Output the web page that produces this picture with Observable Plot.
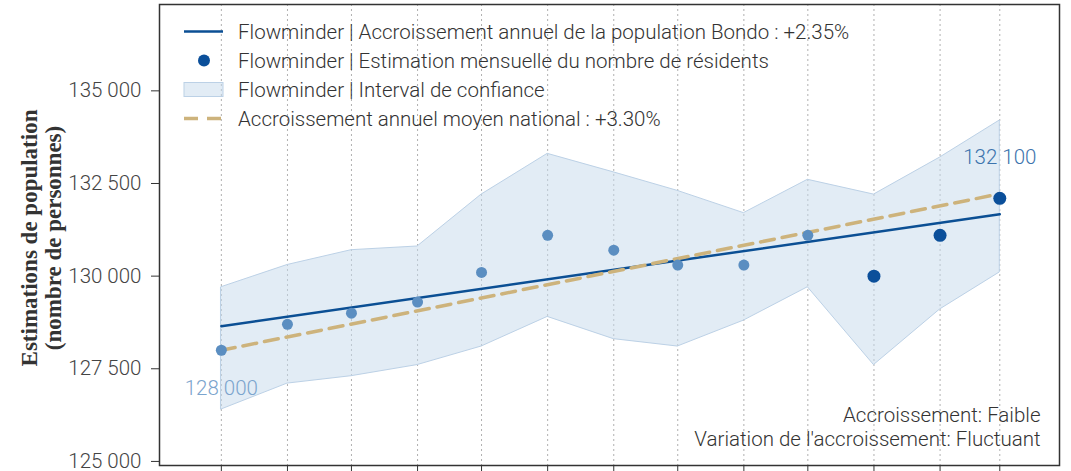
<!DOCTYPE html>
<html><head><meta charset="utf-8">
<script src="https://cdn.jsdelivr.net/npm/d3@7"></script>
<script src="https://cdn.jsdelivr.net/npm/@observablehq/plot@0.6"></script>
<style>
body{margin:0;background:#fff;}
#wrap{position:relative;width:1071px;height:471px;overflow:hidden;font-family:Roboto,sans-serif;font-weight:300;color:#333;}
#legend{position:absolute;left:182px;top:17px;font-size:20.5px;}
#legend .row{display:flex;align-items:center;height:29px;white-space:nowrap;}
#legend svg{width:44px;height:29px;margin-right:12px;flex:none;}
</style></head><body><div id="wrap"></div>
<script>
// ---- data ----
const months = ["2022-03-01","2022-04-01","2022-05-01","2022-06-01","2022-07-01","2022-08-01","2022-09-01","2022-10-01","2022-11-01","2022-12-01","2023-01-01","2023-02-01","2023-03-01"];
const estimates = [128000,128700,129000,129300,130100,131100,130700,130300,130300,131100,130000,131100,132100];
const ciLower = [126400,127100,127300,127600,128100,128900,128300,128100,128800,129700,127600,129100,130100];
const ciUpper = [129700,130300,130700,130800,132200,133300,132800,132300,131700,132600,132200,133200,134200];
const recentCount = 3;
const trendDates = ["2022-03-01","2023-03-01"];
const trendBondo = [128650,131670];
const trendNational = [128000,132220];
const yTicks = [125000,127500,130000,132500,135000];
const legendLabels = [
  "Flowminder | Accroissement annuel de la population Bondo : +2.35%",
  "Flowminder | Estimation mensuelle du nombre de résidents",
  "Flowminder | Interval de confiance",
  "Accroissement annuel moyen national : +3.30%"
];
const yTitle = "Estimations de population\n(nombre de personnes)";
const noteText = "Accroissement: Faible\nVariation de l'accroissement: Fluctuant";

// ---- build ----
const fmt = d3.formatLocale({decimal:",", thousands:" ", grouping:[3], currency:["","€"]}).format(",d");
const data = months.map((m,i)=>({date:new Date(m), est:estimates[i], lo:ciLower[i], hi:ciUpper[i], recent:i>=months.length-recentCount}));
const bondo = trendDates.map((d,i)=>({date:new Date(d), v:trendBondo[i]}));
const national = trendDates.map((d,i)=>({date:new Date(d), v:trendNational[i]}));
const first = data[0], last = data[data.length-1];
const FS = 20.5;

const plot = Plot.plot({
  width:1071, height:471,
  marginLeft:159, marginTop:4, marginRight:12, marginBottom:6,
  style:{fontFamily:"Roboto, sans-serif", fontSize:FS+"px", fontWeight:300, color:"#333", background:"white"},
  x:{type:"utc", domain:[new Date("2022-01-31"), new Date("2023-03-29")], axis:null},
  y:{domain:[124890,137330], axis:null},
  marks:[
    Plot.ruleX(data, {x:"date", stroke:"#b0b0b0", strokeWidth:1, strokeDasharray:"2,3"}),
    Plot.areaY(data, {x:"date", y1:"lo", y2:"hi", fill:"#c6d9ec", fillOpacity:0.5, stroke:"#bcd1e6", strokeWidth:1}),
    Plot.lineY(bondo, {x:"date", y:"v", stroke:"#0b4f94", strokeWidth:2.5}),
    Plot.lineY(national, {x:"date", y:"v", stroke:"#cdb37c", strokeWidth:3.5, strokeDasharray:"14,8"}),
    Plot.dot(data.filter(d=>!d.recent), {x:"date", y:"est", r:5.5, fill:"#5b8ec1"}),
    Plot.dot(data.filter(d=>d.recent), {x:"date", y:"est", r:6.5, fill:"#0b4f9a"}),
    Plot.text([first], {x:"date", y:"est", text:d=>fmt(d.est), dy:38, fill:"#7ba4cd", fontSize:FS}),
    Plot.text([last], {x:"date", y:"est", text:d=>fmt(d.est), dy:-41, fill:"#3d74ad", fontSize:FS}),
    Plot.text([noteText], {text:d=>d, frameAnchor:"bottom-right", textAnchor:"end", lineAnchor:"bottom", dx:-19, dy:-20, lineHeight:1.15, fontSize:FS, fill:"#333"}),
    Plot.text([yTitle], {text:d=>d, frameAnchor:"left", textAnchor:"middle", rotate:-90, dx:-118, dy:3, lineAnchor:"middle", lineHeight:1.05, fontFamily:"Liberation Serif, serif", fontWeight:"bold", fontSize:23, fill:"#333"}),
    Plot.frame({stroke:"#333", strokeWidth:1.5}),
    Plot.axisY({ticks:yTicks, tickFormat:fmt, tickSize:8, tickPadding:10, fontSize:FS, fill:"#444", stroke:"#333", label:null}),
    Plot.axisX(data.map(d=>d.date), {tickSize:6, fill:"none", stroke:"#333", anchor:"bottom", label:null})
  ]
});
const wrap = document.getElementById("wrap");
wrap.appendChild(plot);

// legend
const swatches = [
  '<line x1="2" x2="41" y1="14.5" y2="14.5" stroke="#0b4f94" stroke-width="2.5"/>',
  '<circle cx="22" cy="14.5" r="6" fill="#0b4f9a"/>',
  '<rect x="2" y="7.5" width="39" height="14" fill="#c6d9ec" fill-opacity="0.5" stroke="#bcd1e6"/>',
  '<line x1="2" x2="41" y1="14.5" y2="14.5" stroke="#cdb37c" stroke-width="3.5" stroke-dasharray="14,9"/>'
];
const leg = document.createElement("div");
leg.id = "legend";
leg.innerHTML = legendLabels.map((t,i)=>`<div class="row"><svg viewBox="0 0 44 29">${swatches[i]}</svg><span>${t}</span></div>`).join("");
wrap.appendChild(leg);
</script></body></html>
